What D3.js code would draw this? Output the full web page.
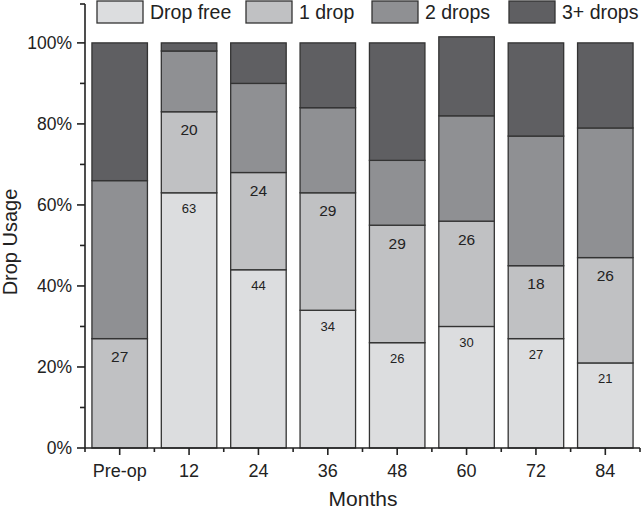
<html>
    <head>
        <meta charset="utf-8">
        <title>Drop Usage</title>
        <style type="text/css">
            body { margin: 0; background: #fff; }
            text { font-family: "Liberation Sans", Arial, sans-serif; fill: #222; }
        </style>
        <script src="https://d3js.org/d3.v7.min.js"></script>
    </head>
    <body>
    	<svg width="642" height="510"></svg>
    	<script>
		// values in percent
		var months = ["Pre-op", "12", "24", "36", "48", "60", "72", "84"];
		var keys = ["Drop free", "1 drop", "2 drops", "3+ drops"];
		var dropFree = [0, 63, 44, 34, 26, 30, 27, 21];
		var oneDrop  = [27, 20, 24, 29, 29, 26, 18, 26];
		var twoDrops = [39, 15, 22, 21, 16, 26, 32, 32];
		var threePlus = [34, 2, 10, 16, 29, 19.5, 23, 21];
		var yTicks = [0, 20, 40, 60, 80, 100];

		var colors = d3.scaleOrdinal()
			.domain(keys)
			.range(["#dcdddf", "#c0c1c3", "#8f9093", "#5f5f62"]);

		var data = months.map(function(m, i) {
			return {month: m, "Drop free": dropFree[i], "1 drop": oneDrop[i],
				"2 drops": twoDrops[i], "3+ drops": threePlus[i]};
		});

		var svg = d3.select("svg"),
		    margin = {top: 4, right: 2, bottom: 62, left: 85},
		    width = +svg.attr("width") - margin.left - margin.right,
		    height = +svg.attr("height") - margin.top - margin.bottom,
		    g = svg.append("g").attr("transform", `translate(${margin.left},${margin.top})`);

		var xScale = d3.scaleBand()
			.domain(months)
			.range([0, width])
			.paddingInner(0.2)
			.paddingOuter(0.1);
		var yScale = d3.scaleLinear()
			.domain([0, 109.6])
			.range([height, 0]);

		var series = d3.stack().keys(keys)(data);

		var layers = g.selectAll("g.layer")
			.data(series)
			.enter()
			.append("g")
			.attr("class", "layer")
			.attr("fill", d => colors(d.key));

		layers.selectAll("rect")
			.data(d => d)
			.enter()
			.append("rect")
				.attr("x", d => xScale(d.data.month))
				.attr("y", d => yScale(d[1]))
				.attr("width", xScale.bandwidth())
				.attr("height", d => yScale(d[0]) - yScale(d[1]))
				.attr("stroke", "#333")
				.attr("stroke-width", 1.3);

		// value labels for the first two series
		series.slice(0, 2).forEach(function(s, si) {
			g.append("g").selectAll("text")
				.data(s.filter(d => d[1] - d[0] > 0))
				.enter()
				.append("text")
					.attr("x", d => xScale(d.data.month) + xScale.bandwidth() / 2)
					.attr("y", d => yScale(d[1]) + (si === 0 ? 16 : 18))
					.attr("dy", "0.35em")
					.attr("text-anchor", "middle")
					.style("font-size", si === 0 ? "13px" : "15.5px")
					.text(d => d[1] - d[0]);
		});

		// x axis with minor ticks at band edges
		var xAxis = g.append("g")
			.attr("transform", "translate(0," + height + ")");
		xAxis.append("line")
			.attr("x1", 0).attr("x2", width)
			.attr("stroke", "#222").attr("stroke-width", 1.6);
		xAxis.selectAll(".major")
			.data(months)
			.enter()
			.append("line")
				.attr("x1", d => xScale(d) + xScale.bandwidth() / 2)
				.attr("x2", d => xScale(d) + xScale.bandwidth() / 2)
				.attr("y2", 7)
				.attr("stroke", "#222").attr("stroke-width", 1.6);
		xAxis.selectAll(".minor")
			.data(d3.range(months.length + 1))
			.enter()
			.append("line")
				.attr("x1", i => i * xScale.step())
				.attr("x2", i => i * xScale.step())
				.attr("y2", 4)
				.attr("stroke", "#222").attr("stroke-width", 1.6);
		xAxis.selectAll("text")
			.data(months)
			.enter()
			.append("text")
				.attr("x", d => xScale(d) + xScale.bandwidth() / 2)
				.attr("y", 29)
				.attr("text-anchor", "middle")
				.style("font-size", "18px")
				.text(d => d);

		// y axis
		var yAxis = g.append("g");
		yAxis.append("line")
			.attr("y1", 0).attr("y2", height)
			.attr("stroke", "#222").attr("stroke-width", 1.6);
		yAxis.append("line")
			.attr("x1", -5).attr("y1", 0).attr("y2", 0)
			.attr("stroke", "#222").attr("stroke-width", 1.6);
		yAxis.selectAll(".minor")
			.data(d3.range(10, 100, 20))
			.enter()
			.append("line")
				.attr("x1", -5)
				.attr("y1", d => yScale(d)).attr("y2", d => yScale(d))
				.attr("stroke", "#222").attr("stroke-width", 1.6);
		var yt = yAxis.selectAll(".major")
			.data(yTicks)
			.enter()
			.append("g")
				.attr("transform", d => `translate(0,${yScale(d)})`);
		yt.append("line")
			.attr("x1", -8)
			.attr("stroke", "#222").attr("stroke-width", 1.6);
		yt.append("text")
			.attr("x", -13)
			.attr("dy", "0.35em")
			.attr("text-anchor", "end")
			.style("font-size", "17.5px")
			.text(d => d + "%");

		// axis titles
		svg.append("text")
			.attr("transform", "translate(17,242) rotate(-90)")
			.attr("text-anchor", "middle")
			.style("font-size", "20px")
			.text("Drop Usage");
		svg.append("text")
			.attr("x", 363)
			.attr("y", 506)
			.attr("text-anchor", "middle")
			.style("font-size", "21px")
			.text("Months");

		// legend
		var legendX = [97, 246, 372, 509];
		var legend = svg.append("g")
			.selectAll("g")
			.data(keys)
			.enter()
			.append("g")
				.attr("transform", (d, i) => `translate(${legendX[i]},1)`);
		legend.append("rect")
			.attr("width", 46)
			.attr("height", 22)
			.attr("fill", d => colors(d))
			.attr("stroke", "#333")
			.attr("stroke-width", 1.3);
		legend.append("text")
			.attr("x", 53)
			.attr("y", 11)
			.attr("dy", "0.35em")
			.style("font-size", "19.5px")
			.text(d => d);
    	</script>
  </body>
</html>
